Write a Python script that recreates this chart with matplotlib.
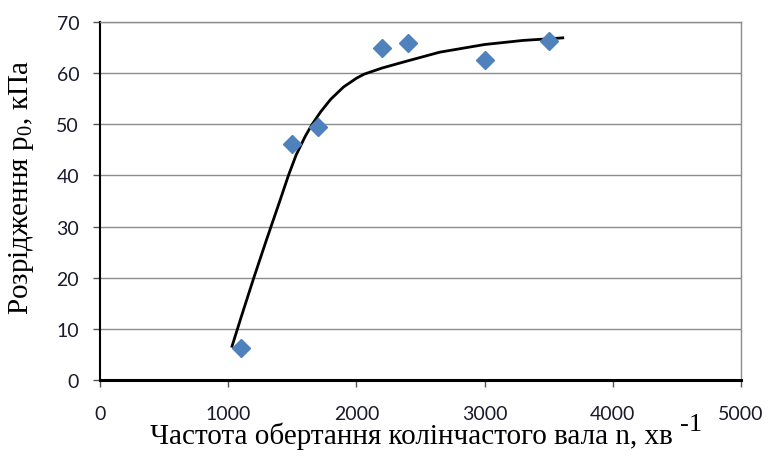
import matplotlib
matplotlib.use("Agg")
import matplotlib.pyplot as plt

# Measured points: crankshaft speed (rpm) vs. vacuum p0 (kPa)
speed_rpm = [1100, 1500, 1700, 2200, 2400, 3000, 3500]
vacuum_kpa = [6.3, 46.2, 49.5, 64.9, 65.9, 62.6, 66.3]

# Approximating curve
curve_rpm = [1030, 1100, 1200, 1300, 1400, 1470, 1530, 1600, 1650, 1720,
             1800, 1900, 2000, 2060, 2200, 2400, 2650, 3000, 3300, 3610]
curve_kpa = [6.6, 12.2, 20.0, 27.5, 34.8, 40.0, 44.0, 47.6, 49.8, 52.4,
             54.9, 57.3, 59.0, 59.8, 61.0, 62.4, 64.1, 65.6, 66.4, 66.9]

x_ticks = [0, 1000, 2000, 3000, 4000, 5000]
y_ticks = [0, 10, 20, 30, 40, 50, 60, 70]

plt.rcParams['mathtext.fontset'] = 'custom'
plt.rcParams['mathtext.rm'] = 'Liberation Serif'

fig = plt.figure(figsize=(7.68, 4.64), dpi=100)
ax = fig.add_axes([0.1302, 0.1789, 0.8346, 0.7715])

ax.plot(curve_rpm, curve_kpa, color='black', lw=2, zorder=3,
        solid_joinstyle='round')
ax.plot(speed_rpm, vacuum_kpa, linestyle='none', marker='D', ms=9,
        color='#4F81BD', markeredgecolor='#4F81BD', zorder=4)

ax.set_xlim(0, 5000)
ax.set_ylim(0, 70)
ax.set_xticks(x_ticks)
ax.set_yticks(y_ticks)
ax.yaxis.grid(True, color='#8c8c8c', lw=1)
ax.set_axisbelow(True)

for side in ('top', 'right'):
    ax.spines[side].set_color('#8c8c8c')
    ax.spines[side].set_linewidth(1)
ax.spines['left'].set_color('black')
ax.spines['left'].set_linewidth(1.5)
ax.spines['bottom'].set_color('black')
ax.spines['bottom'].set_linewidth(2.2)

ax.tick_params(axis='both', direction='out', length=5, width=1,
               color='#555555', labelsize=14, labelcolor='#1a1a2e')
ax.tick_params(axis='x', pad=13)
ax.tick_params(axis='y', pad=10)
for lab in ax.get_xticklabels() + ax.get_yticklabels():
    lab.set_family(['Lato', 'DejaVu Sans'])

ax.set_xlabel('Частота обертання колінчастого вала n, хв',
              family='Liberation Serif', fontsize=21)
ax.set_ylabel('Розрідження p$_{\\mathregular{0}}$, кПа',
              family='Liberation Serif', fontsize=21)
ax.xaxis.set_label_coords(0.486, -0.115)
ax.yaxis.set_label_coords(-0.1, 0.54)

# superscript "-1" of the unit, placed after the x-axis label
ax.annotate('-1', xy=(1, 1), xycoords=ax.xaxis.label, xytext=(5, -2),
            textcoords='offset points', ha='left', va='center',
            family='Liberation Serif', fontsize=19)

fig.savefig('out.png', dpi=100)
